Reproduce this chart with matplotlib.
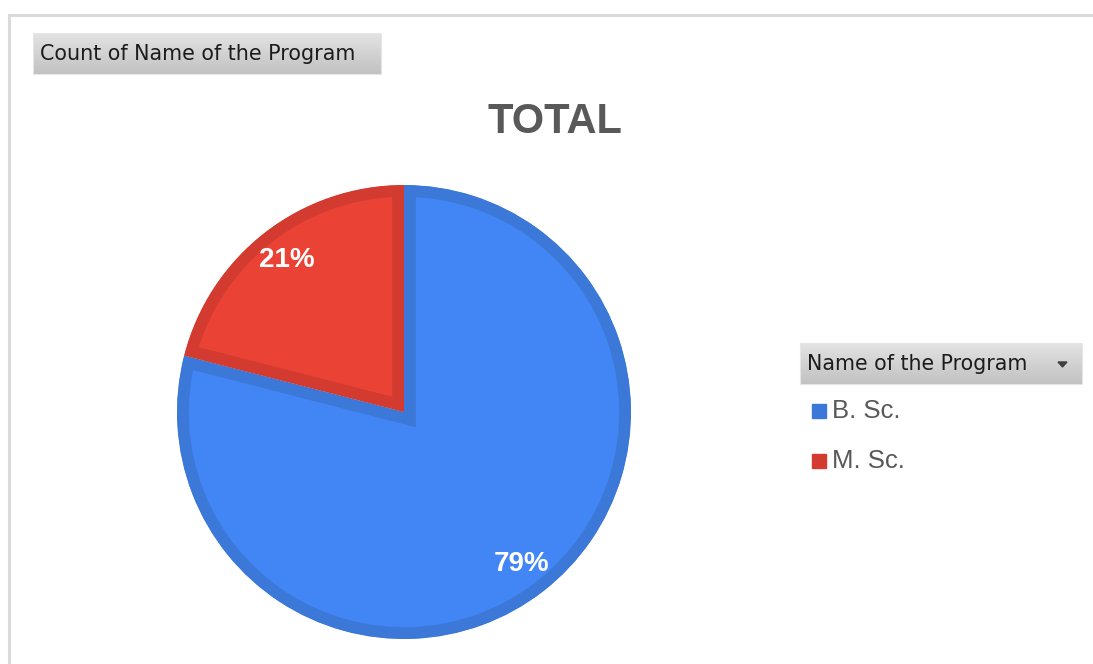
import numpy as np
import matplotlib
matplotlib.use("Agg")
import matplotlib.pyplot as plt
from matplotlib.patches import Polygon, Rectangle

# ---- data ----
categories = ["B. Sc.", "M. Sc."]
shares = [79, 21]
fill_colors = ["#4285F4", "#EA4335"]
edge_colors = ["#3C78D8", "#D33B30"]
title = "TOTAL"
field_button = "Count of Name of the Program"
legend_title = "Name of the Program"

W, H = 1093, 664
fig = plt.figure(figsize=(W / 100, H / 100), dpi=100)
ax = fig.add_axes([0, 0, 1, 1])

def py(y):  # pixel row -> data y
    return H - y

# pie
wedges, texts, autotexts = ax.pie(
    shares, colors=fill_colors, startangle=90, counterclock=False,
    center=(404, py(412)), radius=227, autopct="%1.0f%%", pctdistance=0.845,
    wedgeprops=dict(linewidth=0),
    textprops=dict(color="white", fontsize=20, fontweight="bold",
                   family="Liberation Sans"))

ax.set_xlim(0, W)
ax.set_ylim(0, H)
ax.set_aspect("equal")
ax.axis("off")

for w, ec in zip(wedges, edge_colors):
    w.set_edgecolor(ec)
    w.set_linewidth(17)
    w.set_joinstyle("miter")
    w.set_clip_on(True)
    w.set_clip_path(w.get_path(), w.get_transform())

# outer frame lines
ax.plot([8, W], [py(14.5), py(14.5)], color="#dadada", lw=2.2, solid_capstyle="butt")
ax.plot([8.5, 8.5], [py(14), 0], color="#dadada", lw=2.2, solid_capstyle="butt")

def gradient_button(x0, y0, x1, y1):
    grad = np.linspace(0, 1, 64).reshape(-1, 1)
    top = np.array([0.89, 0.89, 0.89])
    bot = np.array([0.76, 0.76, 0.76])
    img = top + (bot - top) * grad[..., None]
    img = np.repeat(img, 2, axis=1)
    ax.imshow(img, extent=(x0, x1, py(y1), py(y0)), aspect="auto",
              interpolation="bilinear", zorder=2)
    ax.add_patch(Rectangle((x0, py(y1)), x1 - x0, y1 - y0, fill=False,
                           edgecolor="#e6e6e6", lw=0.8, zorder=3))

gradient_button(33, 33, 381, 74)
ax.text(40, py(54), field_button, fontsize=14.9, family="DejaVu Sans",
        color="#1c1c1c", va="center", ha="left", zorder=4)

ax.text(555, py(122), title, fontsize=30, fontweight="bold",
        family="Liberation Sans", color="#595959", ha="center", va="center")

# legend
gradient_button(800, 343, 1082, 384)
ax.text(807, py(364), legend_title, fontsize=14.8, family="DejaVu Sans",
        color="#1c1c1c", va="center", ha="left", zorder=4)
ax.add_patch(Polygon([(1058, py(362)), (1067, py(362)), (1062.5, py(367))],
                     closed=True, color="#404040", zorder=4))

legend_rows = [411, 461]
for cat, col, yy in zip(categories, edge_colors, legend_rows):
    ax.add_patch(Rectangle((812, py(yy + 7)), 14, 14, color=col, zorder=4))
    ax.text(832, py(yy), cat, fontsize=18.5, family="Liberation Sans",
            color="#595959", va="center", ha="left")

ax.set_xlim(0, W)
ax.set_ylim(0, H)
fig.savefig("out.png", dpi=100, facecolor="white")
